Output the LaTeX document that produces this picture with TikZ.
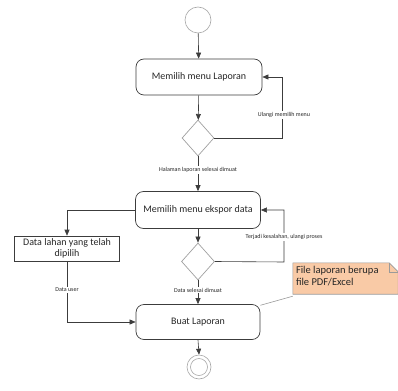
\documentclass[tikz,border=0pt]{standalone}
\usepackage{fontspec}
\setmainfont{Carlito}
\usetikzlibrary{arrows.meta,shapes.geometric}
\definecolor{edge}{HTML}{3C3C3C}
\definecolor{notefill}{HTML}{F9CAA6}
\definecolor{noteline}{HTML}{9A9A9A}
\tikzset{
  action/.style={draw=edge, rounded corners=8pt, line width=0.7pt, inner sep=2pt,
                 font=\fontsize{10}{12}\selectfont, text=black!85},
  objbox/.style={draw=edge, line width=0.6pt, inner sep=1pt, align=center,
                 font=\fontsize{10}{12}\selectfont, text=black!85},
  decision/.style={draw=gray!75, diamond, inner sep=0pt, line width=0.7pt},
  flow/.style={draw=edge, line width=0.6pt, -{Triangle[length=6pt,width=5pt]}},
  guard/.style={fill=white, inner sep=1pt, font=\fontsize{6}{7}\selectfont, text=black!85},
  initial/.style={circle, draw=gray!70, line width=0.6pt, minimum size=26pt, inner sep=0pt},
}
\begin{document}
\begin{tikzpicture}[x=1pt, y=-1pt]
\useasboundingbox (0,0) rectangle (398,390);

% activity nodes
\node[initial] (start) at (198,20) {};
\node[action, minimum width=126pt, minimum height=36pt] (act1) at (199,77) {Memilih menu Laporan};
\node[decision, minimum width=32pt, minimum height=36pt] (dec1) at (198,138) {};
\node[action, minimum width=125pt, minimum height=37pt] (act2) at (198,210) {Memilih menu ekspor data};
\node[objbox, minimum width=105pt, minimum height=25pt] (data) at (67,248.5) {Data lahan yang telah\\[-1pt]dipilih};
\node[decision, minimum width=33pt, minimum height=37pt] (dec2) at (198,261.5) {};
\node[action, minimum width=124pt, minimum height=35pt] (act3) at (198,322) {Buat Laporan};

% final node
\node[circle, draw=gray!70, line width=0.6pt, minimum size=24pt, inner sep=0pt] (end) at (199,367) {};
\node[circle, draw=gray!70, line width=0.6pt, minimum size=17pt, inner sep=0pt] (endin) at (199,367) {};

% note with folded corner
\node[minimum width=105pt, minimum height=31pt, inner sep=0pt] (note) at (345.5,278.5) {};
\fill[notefill] (note.south west) -- (note.north west) -- ([xshift=-9pt]note.north east)
  -- ([yshift=-9pt]note.north east) -- (note.south east) -- cycle;
\draw[noteline, line width=0.6pt] (note.south east) -- (note.south west) -- (note.north west)
  -- ([xshift=-9pt]note.north east) -- ([yshift=-9pt]note.north east) -- (note.south east);
\draw[noteline, line width=0.6pt] ([xshift=-9pt]note.north east) -- ([xshift=-9pt,yshift=-9pt]note.north east)
  -- ([yshift=-9pt]note.north east);
\node[anchor=north west, align=left, inner sep=0pt, font=\fontsize{10.5}{12.5}\selectfont, text=black!85]
  (notetext) at ([xshift=3pt,yshift=-3pt]note.north west) {File laporan berupa\\file PDF/Excel};
\draw[noteline, line width=0.6pt] ([yshift=-2pt]note.south west) -- (act3.15);

% loop-back corner points
\coordinate (r1) at (282,138);
\coordinate (r2) at (284,262);
\coordinate (l1) at (67,322);

% control flows
\draw[flow] (start) -- (act1);
\draw[flow] (act1) -- (dec1);
\draw[flow] (dec1.east) -- (r1) |- (act1.east);
\draw[flow] (dec1.south) -- (act2.north);
\draw[flow] (act2.west) -| (data.north);
\draw[flow] (act2.south) -- (dec2.north);
\draw[flow] (dec2.east) -- (r2) |- (act2.east);
\draw[flow] (dec2.south) -- (act3.north);
\draw[flow] (data.south) -- (l1) -- (act3.west);
\draw[flow] (act3.south) -- (end.north);

% guard labels
\node[guard] (g1) at (284,115) {Ulangi memilih menu};
\node[guard] (g2) at (198,170) {Halaman laporan selesai dimuat};
\node[guard] (g3) at (284,237) {Terjadi kesalahan, ulangi proses};
\node[guard] (g4) at (198,290) {Data selesai dimuat};
\node[guard] (g5) at (67,290) {Data user};
\end{tikzpicture}
\end{document}
